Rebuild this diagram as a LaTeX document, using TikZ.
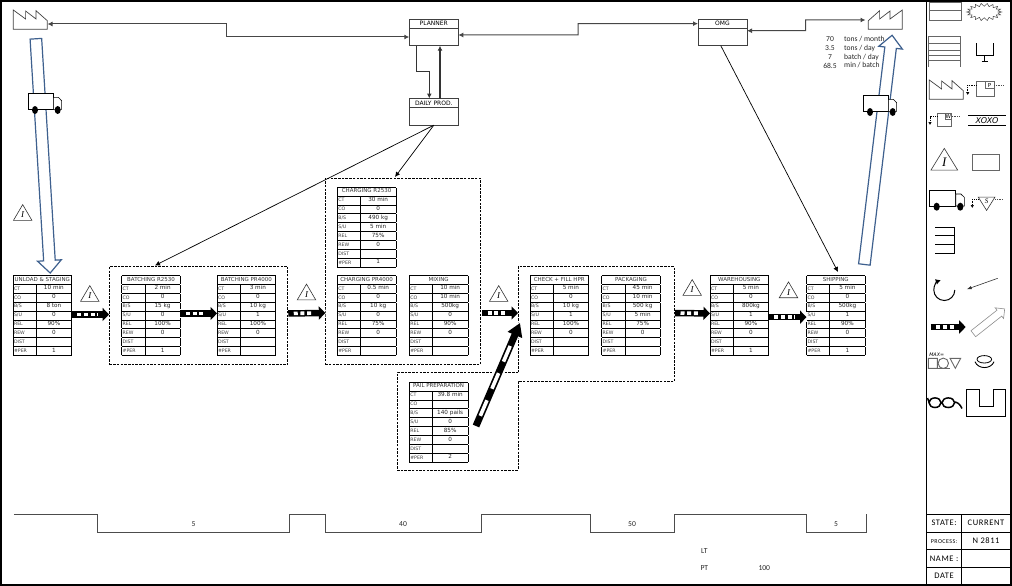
\documentclass[tikz,border=0pt]{standalone}
\usepackage{fontspec}
\setmainfont{DejaVu Sans}
\newfontfamily\calfont{Carlito}
\newfontfamily\caltrack[LetterSpace=7]{Carlito}
\newfontfamily\serfont{Liberation Serif}
\usetikzlibrary{arrows.meta,positioning,fit,shapes.geometric,shapes.arrows}
\definecolor{shipblue}{RGB}{62,96,142}
\definecolor{linegray}{RGB}{70,70,70}

\newcommand{\procrow}[2]{\rule[-2.7pt]{0pt}{8.1pt}\makebox[23.2pt][l]{\hspace{1pt}{\fontsize{4.7}{5}\selectfont\color{black!75}#1}}&\raisebox{.2pt}{\makebox[35.4pt]{\fontsize{5.7}{5}\selectfont\color{black!85}#2}}}
\newcommand{\proctab}[8]{{\setlength{\tabcolsep}{0pt}\setlength{\arrayrulewidth}{.8pt}\fontsize{5}{5}\selectfont
\begin{tabular}{|l|c|}\hline
\multicolumn{2}{|c|}{\rule[-2.7pt]{0pt}{8.1pt}\makebox[58.4pt]{\fontsize{5.5}{5}\selectfont\color{black!80}#1}}\\\hline
\procrow{CT}{#2}\\\hline
\procrow{CO}{#3}\\\hline
\procrow{B/S}{#4}\\\hline
\procrow{S/U}{#5}\\\hline
\procrow{REL}{#6}\\\hline
\procrow{REW}{#7}\\\hline
\procrow{DIST}{}\\\hline
\procrow{\#PER}{#8}\\\hline
\end{tabular}}}
\newcommand{\statetab}{{\setlength{\tabcolsep}{0pt}\setlength{\arrayrulewidth}{.9pt}\fontsize{8.5}{8}\caltrack
\begin{tabular}{|c|c|}\hline
\rule[-6pt]{0pt}{16.8pt}\makebox[34.8pt]{STATE:}&\makebox[49pt]{CURRENT}\\\hline
\rule[-6pt]{0pt}{16.8pt}\makebox[34.8pt]{\fontsize{6}{6}\selectfont PROCESS:}&\makebox[49pt]{N 2811}\\\hline
\rule[-6pt]{0pt}{16.8pt}\makebox[34.8pt]{NAME :}&\makebox[49pt]{}\\\hline
\rule[-6pt]{0pt}{16.8pt}\makebox[34.8pt]{DATE}&\makebox[49pt]{}\\\hline
\end{tabular}}}
\newcommand{\pushto}[2]{\draw[pushhalo] (#1)--(#2); \draw[pushbar] (#1)--(#2); \draw[pushgap] (#1)--(#2);}

\tikzset{
  factory/.pic={\draw[draw=black!75,line width=.7] (0,19.3)--(0,0)--(12.3,9)--(12.3,1)--(22.7,9)--(22.7,.7)--(34,10.7)--(34,19.3)--cycle;},
  truck/.pic={
    \draw[fill=white,line width=.8] (0,0) rectangle (25,16);
    \draw[fill=white,line width=.6] (25,4)--(30,4)--(33.3,7.4)--(33.3,16)--(25,16)--cycle;
    \fill (6.7,16.7) ellipse[x radius=3,y radius=4];
    \fill (29.4,16.7) ellipse[x radius=3,y radius=4];
  }
}

\begin{document}
\begin{tikzpicture}[x=1pt,y=-1pt,
  procbox/.style={anchor=north west,inner sep=0,outer sep=0},
  grouped/.style={draw,dash pattern=on 2.5pt off 1.2pt,line width=.9,inner xsep=12.2,inner ysep=8.6},
  infohead/.style={draw=black!75,line width=.9,anchor=north west,minimum width=49,minimum height=9.3,inner sep=0,outer sep=0,font=\fontsize{6}{6}\selectfont},
  infobody/.style={draw=black!75,line width=.9,minimum width=49,minimum height=17.4,inner sep=0,outer sep=0},
  link/.style={draw=linegray,line width=1,{Latex[length=5,width=5]}-{Latex[length=5,width=5]}},
  linkstrong/.style={draw=black!80,line width=1.1,-{Latex[length=5,width=5]}},
  signal/.style={draw=black,line width=.7,-{Latex[length=5,width=5]}},
  pushhalo/.style={draw=white,line width=9.5},
  pushbar/.style={draw=black,line width=6.5,-{Triangle[length=6.5,width=13]}},
  pushgap/.style={draw=white,line width=3.6,shorten <=5.5,shorten >=11.5,dash pattern=on 4pt off 2.7pt},
  longbar/.style={draw=black,line width=7,-{Triangle[length=13,width=15]}},
  longgap/.style={draw=white,line width=3.6,shorten <=11,shorten >=23,dash pattern=on 17pt off 12.5pt},
  shiparrow/.style={shape=single arrow,draw=shipblue,line width=1.2,fill=white,inner xsep=0,inner ysep=5.2pt,minimum width=22.7,single arrow head extend=6.1pt,single arrow tip angle=87},
  invtri/.style={shape=isosceles triangle,shape border rotate=90,isosceles triangle stretches,draw=black!80,line width=.6,inner sep=0,minimum width=18.5,minimum height=15.8,font=\fontsize{9}{9}\serfont\itshape},
  caltext/.style={font=\fontsize{7.6}{8}\calfont,inner sep=0,text=black!85},
  legendgray/.style={draw=black!60,line width=.9},
  legendline/.style={draw=black,line width=.9},
  legenddot/.style={draw=black!70,line width=.5,dash pattern=on .8pt off 1pt},
  dropdot/.style={draw=black,line width=.5,dash pattern=on .8pt off 1pt,-{Latex[length=3,width=3.5]}}]
  \useasboundingbox (0,0) rectangle (1012,586);
  \draw[line width=1.2] (1,1) rectangle (1011,585);
  \draw[line width=1.2] (926.7,1)--(926.7,585);

  \node[procbox] (unload) at (13,275) {\proctab{UNLOAD \& STAGING}{10 min}{0}{8 ton}{0}{90\%}{0}{1}};
  \node[procbox] (batchA) at (121.7,275) {\proctab{BATCHING R2530}{2 min}{0}{15 kg}{0}{100\%}{0}{1}};
  \node[procbox] (batchB) at (217,275) {\proctab{BATCHING PR4000}{3 min}{0}{10 kg}{1}{100\%}{0}{}};
  \node[procbox] (chargeA) at (337.3,186.7) {\proctab{CHARGING R2530}{30 min}{0}{490 kg}{5 min}{75\%}{0}{1}};
  \node[procbox] (chargeB) at (337.3,275) {\proctab{CHARGING PR4000}{0.5 min}{0}{10 kg}{0}{75\%}{0}{}};
  \node[procbox] (mixing) at (409.3,275) {\proctab{MIXING}{10 min}{10 min}{500kg}{0}{90\%}{0}{}};
  \node[procbox] (pail) at (409.3,381.7) {\proctab{PAIL PREPARATION}{39.8 min}{}{140 pails}{0}{85\%}{0}{2}};
  \node[procbox] (check) at (530,275) {\proctab{CHECK + FILL HPR}{5 min}{0}{10 kg}{1}{100\%}{0}{}};
  \node[procbox] (packaging) at (601.7,275) {\proctab{PACKAGING}{45 min}{10 min}{500 kg}{5 min}{75\%}{0}{}};
  \node[procbox] (warehouse) at (710,275) {\proctab{WAREHOUSING}{5 min}{0}{800kg}{1}{90\%}{0}{1}};
  \node[procbox] (shipping) at (806.5,275) {\proctab{SHIPPING}{5 min}{0}{500kg}{1}{90\%}{0}{1}};

  \node[grouped,fit=(batchA)(batchB)] (batchgroup) {};
  \node[grouped,fit=(chargeA)(chargeB)(mixing)] (chargegroup) {};
  \draw[dash pattern=on 2.5pt off 1.2pt,line width=.9] (518,372.3)--(518,266.7)--(674.3,266.7)--(674.3,381.3)--(518,381.3)--(518,470)--(397.3,470)--(397.3,372.3)--cycle;
  \coordinate (checkgroup) at (518,315);

  \pic at (13.3,10) {factory};
  \pic[xscale=-1] at (902.3,10) {factory};
  \coordinate (supplier) at (47.5,24);
  \coordinate (customer) at (865.5,20);

  \node[infohead] (planner) at (409.3,19) {PLANNER};
  \node[infobody,below=0pt of planner] (plannerbody) {};
  \node[infohead] (omg) at (698,19) {OMG};
  \node[infobody,below=0pt of omg] (omgbody) {};
  \node[infohead] (daily) at (409.3,98.5) {DAILY PROD.};
  \node[infobody,below=0pt of daily] (dailybody) {};

  \draw[link] (supplier)--(226.7,24)|-(plannerbody.west);
  \draw[link] ([yshift=2pt]plannerbody.east)--(578,35)|-(omg.west);
  \draw[link] ([yshift=6.3pt]omgbody.east)--(805.7,30.7)|-(customer);
  \draw[linkstrong] ([xshift=-17.1pt]plannerbody.south)--(416.7,71.7)-|([xshift=-4.5pt]daily.north);
  \draw[linkstrong] ([xshift=6.2pt]daily.north)--(440,45.7);

  \coordinate (batchin) at (155,265.5);
  \coordinate (chargein) at (395,177);
  \coordinate (shipin) at (838,272);
  \draw[signal] (dailybody.south)--(batchin);
  \draw[signal] (dailybody.south)--(chargein);
  \draw[signal] ([xshift=-1.7pt]omgbody.south)--(shipin);

  \node[shiparrow,minimum height=234.7,rotate=-86.5] (shipment) at (42.85,152.85) {};
  \node[shiparrow,minimum height=230.9,rotate=83.1] (delivery) at (877.85,152.9) {};
  \pic at (28.3,93.3) {truck};
  \pic at (863.3,95.3) {truck};

  \pushto{[yshift=1pt]unload.east}{[yshift=1pt]batchgroup.west}
  \pushto{[yshift=2pt]batchA.east}{[yshift=2pt]batchB.west}
  \pushto{[yshift=2pt]batchgroup.east}{325.3,313}
  \pushto{482,313}{[yshift=2pt]checkgroup}
  \pushto{675,313}{[yshift=2pt]warehouse.west}
  \pushto{[yshift=-1.7pt]warehouse.east}{[yshift=-1.7pt]shipping.west}
  \coordinate (pailout) at (476,426);
  \coordinate (checkin) at (520,323);
  \draw[pushhalo] (pailout)--(checkin);
  \draw[longbar] (pailout)--(checkin);
  \draw[longgap] (pailout)--(checkin);

  \node[invtri] (inv1) at (22.7,215) {I};
  \node[invtri] (inv2) at (89.8,296) {I};
  \node[invtri] (inv3) at (306.5,294.5) {I};
  \node[invtri] (inv4) at (498.7,296) {I};
  \node[invtri] (inv5) at (692.2,290) {I};
  \node[invtri] (inv6) at (788.5,292.3) {I};

  \foreach \val/\unit/\ypos [count=\n] in {70/{tons / month}/39.5,3.5/{tons / day}/48.5,7/{batch / day}/57,68.5/{min / batch}/65.5}{
    \node[caltext] (rate\n) at (830,\ypos) {\val};
    \node[caltext,anchor=west] (unit\n) at (844,\ypos) {\unit};
  }

  \draw[draw=black!70,line width=.9] (13.9,514)--(97.6,514)--(97.6,532)--(289.6,532)--(289.6,514)--(325.4,514)--(325.4,532)--(481.5,532)--(481.5,514)--(590,514)--(590,532)--(674,532)--(674,514)--(806.7,514)--(806.7,532)--(866,532)--(866,514);
  \node[caltext] (wait1) at (193.6,524) {5};
  \node[caltext] (wait2) at (403,524) {40};
  \node[caltext] (wait3) at (632,524) {50};
  \node[caltext] (wait4) at (836,524) {5};
  \node[caltext] (lt) at (704.3,550.7) {LT};
  \node[caltext] (pt) at (704.3,568.3) {PT};
  \node[caltext] (ptval) at (764.3,568.3) {100};
  \node[procbox] (statebox) at (926.7,514) {\statetab};

  \draw[legendgray] (929,2) rectangle (961,20) (929,10)--(961,10);
  \draw[draw=black!75,line width=.5] plot[domain=0:350,samples=36] ({984.2+(17.5-3.5*mod(round(\x/10),2))*cos(\x)},{12+(8.7-3*mod(round(\x/10),2))*sin(\x)})--cycle;
  \draw[legendgray] (928.3,66.7)--(928.3,36.7)--(960.7,36.7)--(960.7,66.7) (928.3,43.3)--(960.7,43.3) (928.3,50)--(960.7,50) (928.3,55)--(960.7,55) (928.3,60.7)--(960.7,60.7);
  \draw[legendline] (976,43.3)--(976,55.7)--(993,55.7)--(993,43.3) (984.3,55.7)--(984.3,61.7) (981.7,61.7)--(987.7,61.7);
  \pic at (929.3,80) {factory};
  \draw[legendgray] (976.7,81.7) rectangle (994,96) (985,81.7) rectangle (994,88.3);
  \node[inner sep=0,font=\fontsize{5.5}{6}\selectfont] (plabel) at (989.5,85) {P};
  \draw[legenddot] (994,85)--(1004.3,85);
  \draw[dropdot] (976.7,85)--(967.7,85)--(967.7,95);
  \draw[legendgray] (937.3,113.3) rectangle (951.7,126.7) (945,113.3) rectangle (951.7,119.3);
  \node[inner sep=0,font=\fontsize{5.5}{6}\selectfont] (wlabel) at (948.4,116.4) {W};
  \draw[legenddot] (951.7,116.7)--(959,116.7);
  \draw[dropdot] (937.3,116.7)--(930,116.7)--(930,125);
  \draw[legendline] (968.3,115)--(1005.7,115) (968.3,125)--(1005.7,125);
  \node[inner sep=0,font=\fontsize{8}{8}\selectfont\itshape] (xoxo) at (987,120.3) {XOXO};
  \node[invtri,minimum width=26.7,minimum height=21.7,font=\fontsize{13}{13}\serfont\itshape] (legendinv) at (944.3,162.5) {I};
  \draw[legendgray] (972.3,154.3) rectangle (999,170);
  \pic[xscale=1.04] at (929.7,190) {truck};
  \node[invtri,shape border rotate=-90,minimum width=16.7,minimum height=13.3,font=\fontsize{7}{7}\serfont\itshape] (legendsafe) at (986.6,201.5) {S};
  \draw[legenddot] (995,199.3)--(1003.3,199.3);
  \draw[dropdot] (978.3,199.3)--(972.3,199.3)--(972.3,208);
  \draw[legendline] (935,227.3)--(954.3,227.3)--(954.3,253.3)--(935,253.3) (935,235.7)--(954.3,235.7) (935,244)--(954.3,244);
  \draw[legendline,line width=1,-{Latex[length=5,width=6]}] (954.8,290) arc[start angle=0,end angle=250,radius=10.5];
  \coordinate (thinfrom) at (997.7,278.3);
  \coordinate (thinto) at (966.7,289.3);
  \draw[draw=black!80,line width=.6,-{Latex[length=5,width=3.5]}] (thinfrom)--(thinto);
  \coordinate (legendfrom) at (930.7,327);
  \coordinate (legendto) at (965.7,327);
  \pushto{legendfrom}{legendto}
  \node[shape=single arrow,draw=black!45,line width=.6,inner xsep=0,inner ysep=3.5pt,minimum height=40,minimum width=13,single arrow head extend=3pt,rotate=38.3] (pullarrow) at (987.5,322.5) {};
  \node[inner sep=0,font=\fontsize{4.8}{5}\selectfont\itshape] (maxlabel) at (936.7,354.3) {MAX=};
  \draw[legendgray] (928.3,358.3) rectangle (937.3,368.3) (943.3,363.3) circle[radius=5.2] (950,358.3)--(960.7,358.3)--(955.3,368.3)--cycle;
  \draw[legendgray] (928.3,368.3)--(950,368.3);
  \draw[legendline,line width=.8] (984.3,359.3) ellipse[x radius=7.3,y radius=3.7];
  \draw[legendline] (975,361.7) .. controls (978,369.5) and (991,369.5) .. (994,361.7);
  \draw[legendline,line width=1.5] (935,402.7) ellipse[x radius=6,y radius=4.8] (948.3,402.7) ellipse[x radius=6.3,y radius=4.8] (929,402)--(927.5,398) (954.6,402) .. controls (957,402) and (960,404) .. (962,408.5);
  \draw[legendline] (966.7,389.3)--(979,389.3)--(979,406)--(993.3,406)--(993.3,389.3)--(1005.7,389.3)--(1005.7,416.7)--(966.7,416.7)--cycle;
\end{tikzpicture}
\end{document}
